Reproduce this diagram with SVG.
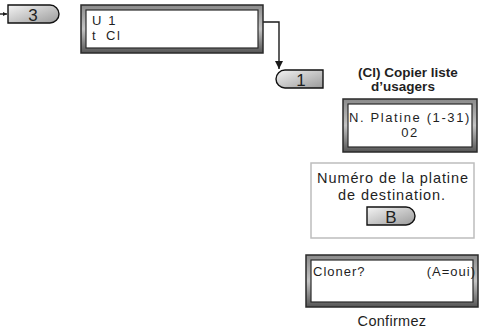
<svg xmlns="http://www.w3.org/2000/svg" width="483" height="329" viewBox="0 0 483 329">
<style>
text{font-family:"Liberation Sans",Arial,sans-serif;fill:#1f1f1f}
.lcd{font-size:13px;letter-spacing:1.6px}
.lcd3{font-size:13px;letter-spacing:1px}
.key{font-size:17px}
.frame{fill:url(#fg);stroke:#2a2a2a;stroke-width:1.5}
.screen{fill:#fff;stroke:#2a2a2a;stroke-width:1.2}
.k{fill:url(#kg);stroke:#111;stroke-width:1.4}
.conn{fill:none;stroke:#1a1a1a;stroke-width:1.4}
.info{font-size:14.5px;letter-spacing:0.9px}
</style>
<defs>
<linearGradient id="fg" x1="0" y1="0" x2="0" y2="1">
<stop offset="0" stop-color="#8a8a8a"/>
<stop offset="0.5" stop-color="#c4c4c4"/>
<stop offset="1" stop-color="#555"/>
</linearGradient>
<linearGradient id="kg" x1="0" y1="0" x2="1" y2="1">
<stop offset="0" stop-color="#f4f4f4"/>
<stop offset="1" stop-color="#9a9a9a"/>
</linearGradient>
<marker id="ah" viewBox="0 0 10 10" refX="10" refY="5" markerWidth="8" markerHeight="9" markerUnits="userSpaceOnUse" orient="auto">
<path d="M0,0 L10,5 L0,10 Z" fill="#1a1a1a"/>
</marker>
<marker id="ah2" viewBox="0 0 10 10" refX="10" refY="5" markerWidth="4" markerHeight="4" markerUnits="userSpaceOnUse" orient="auto">
<path d="M0,0 L10,5 L0,10 Z" fill="#1a1a1a"/>
</marker>
</defs>

<g id="connectors">
<path class="conn" d="M0,14 H7" stroke-width="1" marker-end="url(#ah2)"/>
<path class="conn" d="M263,22 H279 V69" marker-end="url(#ah)"/>
</g>

<g id="key3">
<path class="k" d="M8,5 H50 A9,9 0 0 1 50,23 H8 Z"/>
<text class="key" x="33" y="20.5" text-anchor="middle">3</text>
</g>

<g id="lcd1">
<rect class="frame" x="81" y="5" width="182" height="48"/>
<rect class="screen" x="86" y="10" width="172" height="38"/>
<text class="lcd" x="92" y="25">U 1</text>
<text class="lcd" x="92" y="40">t</text>
<text class="lcd" x="106" y="40">Cl</text>
</g>

<g id="key1">
<path class="k" d="M323,70 H285 A9,9 0 0 0 285,88 H323 Z"/>
<text class="key" x="301" y="85.5" text-anchor="middle">1</text>
</g>

<g id="title">
<text x="408" y="77" text-anchor="middle" font-size="13.5" font-weight="bold">(Cl) Copier liste</text>
<text x="403" y="91" text-anchor="middle" font-size="13.5" font-weight="bold">d’usagers</text>
</g>

<g id="lcd2">
<rect class="frame" x="343" y="99" width="134" height="53"/>
<rect class="screen" x="348" y="104" width="124" height="43"/>
<text class="lcd" x="410" y="122" text-anchor="middle">N. Platine (1-31)</text>
<text class="lcd" x="410" y="137" text-anchor="middle">02</text>
</g>

<g id="info">
<rect x="311" y="163" width="163" height="75" fill="#fff" stroke="#bdbdbd" stroke-width="1.5"/>
<text class="info" x="393" y="183" text-anchor="middle">Numéro de la platine</text>
<text class="info" x="392" y="200" text-anchor="middle">de destination.</text>
<path class="k" d="M367,207 H406 A9,9 0 0 1 406,225 H367 Z"/>
<text class="key" x="391" y="222.5" text-anchor="middle">B</text>
</g>

<g id="lcd3">
<rect class="frame" x="306" y="255" width="172" height="52"/>
<rect class="screen" x="311" y="260" width="162" height="42"/>
<text class="lcd3" x="313" y="276">Cloner?</text>
<text class="lcd3" x="476" y="276" text-anchor="end">(A=oui)</text>
</g>

<g id="caption">
<text x="392" y="326" text-anchor="middle" font-size="14.5" letter-spacing="0.3">Confirmez</text>
</g>
</svg>
